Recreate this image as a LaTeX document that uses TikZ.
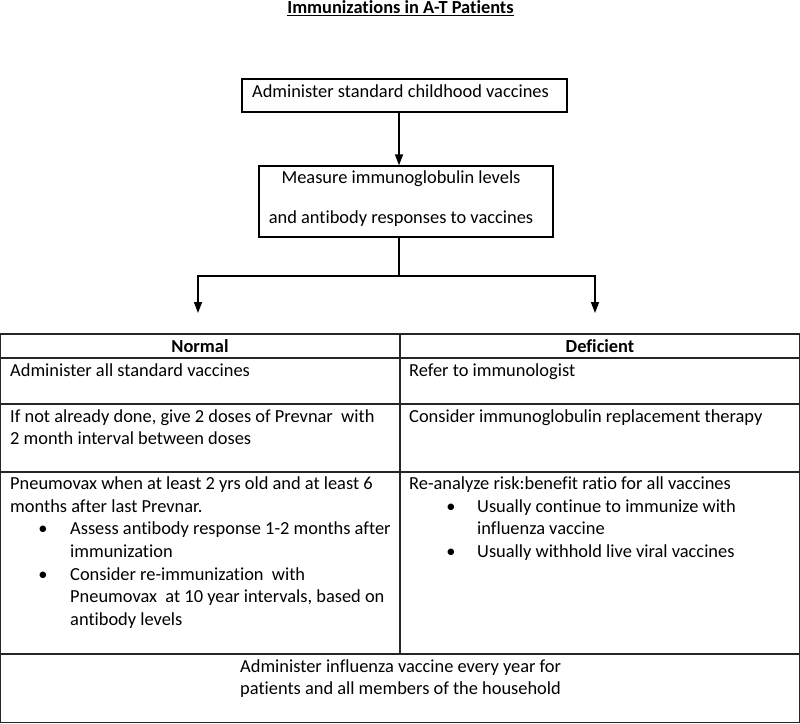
\documentclass[tikz,border=0pt]{standalone}
\usepackage{fontspec}
\setmainfont{Carlito}[Ligatures={NoCommon}]
\usetikzlibrary{arrows.meta}
\begin{document}
\begin{tikzpicture}[x=1pt,y=-1pt,
  txt/.style={anchor=base west,inner sep=0pt,font=\fontsize{18.4}{21}\selectfont},
  ctxt/.style={anchor=base,inner sep=0pt,font=\fontsize{18.4}{21}\selectfont},
  hdr/.style={anchor=base,inner sep=0pt,font=\fontsize{18.4}{21}\selectfont\bfseries},
  bul/.style={anchor=base,inner sep=0pt,font=\fontsize{18.4}{21}\selectfont},
  flowbox/.style={draw=black,line width=1.4pt,inner sep=0pt},
  grid/.style={draw=black!85,line width=1.3pt},
  arr/.style={draw=black,line width=1.5pt,-{Triangle[width=8pt,length=11pt]}},
  conn/.style={draw=black,line width=1.5pt}]
\useasboundingbox (0,0) rectangle (800,723);
% title
\node[hdr] (title) at (400.5,13.2) {\underline{Immunizations in A-T Patients}};
% flow boxes
\node[flowbox,minimum width=325pt,minimum height=33pt] (b1) at (404.5,95.5) {};
\node[ctxt] (t1) at (400.5,97.5) {Administer standard childhood vaccines};
\node[flowbox,minimum width=294pt,minimum height=71pt] (b2) at (406,201.5) {};
\node[ctxt] (t2a) at (401,183) {Measure immunoglobulin levels};
\node[ctxt] (t2b) at (401,223) {and antibody responses to vaccines};
\coordinate (spine) at (399,0);
\coordinate (junc) at (399,276);
\coordinate (tipL) at (198,313);
\coordinate (tipR) at (595,313);
\draw[arr] (b1.south -| spine) -- (b2.north -| spine);
\draw[conn] (b2.south -| spine) -- (junc);
\draw[arr] (junc) -| (tipL);
\draw[arr] (junc) -| (tipR);
% table grid
\draw[grid] (0.7,334) rectangle (799.3,722.3);
\draw[grid] (0.7,358) -- (799.3,358);
\draw[grid] (0.7,404) -- (799.3,404);
\draw[grid] (0.7,472) -- (799.3,472);
\draw[grid] (0.7,654) -- (799.3,654);
\draw[grid] (400,334) -- (400,654);
% headers
\node[hdr] (hN) at (200,352.5) {Normal};
\node[hdr] (hD) at (600,352.5) {Deficient};
% row 1
\node[txt] (n1) at (10,376) {Administer all standard vaccines};
\node[txt] (d1) at (409,376) {Refer to immunologist};
% row 2
\node[txt] (n2a) at (10,422) {If not already done, give 2 doses of Prevnar\ \ with};
\node[txt] (n2b) at (10,444.5) {2 month interval between doses};
\node[txt] (d2) at (409,422) {Consider immunoglobulin replacement therapy};
% row 3 left
\node[txt] (n3a) at (10,489.5) {Pneumovax when at least 2 yrs old and at least 6};
\node[txt] (n3b) at (10,512) {months after last Prevnar.};
\node[bul] (bl1) at (43,534.5) {\textbullet};
\node[txt] (n3c) at (70,534.5) {Assess antibody response 1-2 months after};
\node[txt] (n3d) at (70,557) {immunization};
\node[bul] (bl2) at (43,580) {\textbullet};
\node[txt] (n3e) at (70,580) {Consider re-immunization\ \ with};
\node[txt] (n3f) at (70,602.5) {Pneumovax\ \ at 10 year intervals, based on};
\node[txt] (n3g) at (70,625) {antibody levels};
% row 3 right
\node[txt] (d3a) at (409,489.5) {Re-analyze risk:benefit ratio for all vaccines};
\node[bul] (br1) at (451,512) {\textbullet};
\node[txt] (d3b) at (477,512) {Usually continue to immunize with};
\node[txt] (d3c) at (477,534.5) {influenza vaccine};
\node[bul] (br2) at (451,557) {\textbullet};
\node[txt] (d3d) at (477,557) {Usually withhold live viral vaccines};
% row 4
\node[txt] (f1) at (240,672) {Administer influenza vaccine every year for};
\node[txt] (f2) at (240,694) {patients and all members of the household};
\end{tikzpicture}
\end{document}
